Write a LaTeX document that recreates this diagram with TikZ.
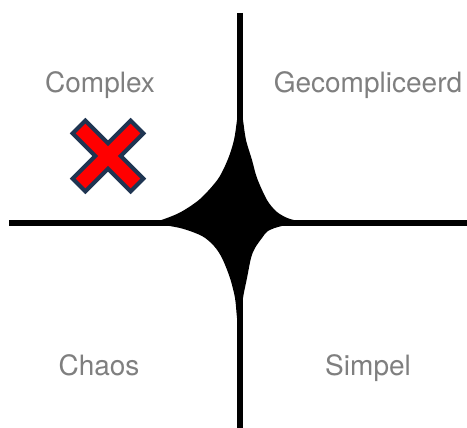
\documentclass[tikz,border=0pt]{standalone}
\usepackage{fontspec}
\setmainfont{TeX Gyre Heros}
\definecolor{labelgray}{HTML}{7F7F7F}
\definecolor{crossnavy}{HTML}{1F3552}
\definecolor{crossred}{HTML}{FF0000}
\begin{document}
\begin{tikzpicture}[x=1pt,y=-1pt,
  quadlabel/.style={text=labelgray,font=\fontsize{28}{31}\selectfont,anchor=base,inner sep=0pt},
  axisline/.style={line width=6pt,black},
  crossshape/.style={fill=crossred,draw=crossnavy,line width=4pt,line join=miter}]
\useasboundingbox (0,0) rectangle (467,428);
\fill[white] (0,0) rectangle (467,428);
% axes
\coordinate (vtop) at (239.7,13);
\coordinate (vbot) at (239.7,428);
\coordinate (hleft) at (9,223);
\coordinate (hright) at (467,223);
\draw[axisline] (vtop) -- (vbot);
\draw[axisline] (hleft) -- (hright);
% star
\fill[black]
  plot[smooth,tension=0.5] coordinates {(150,223) (160,220.5) (180,212.5) (200,199) (218,179) (228,159) (234,140) (237,120) (239.5,100)}
  -- plot[smooth,tension=0.5] coordinates {(240,100) (243,120) (246,140) (252,160) (257,178) (267,200) (277,212) (290,219) (310,223)}
  -- plot[smooth,tension=0.5] coordinates {(310,223) (282,226) (268,231) (262,238) (255,248) (251,258) (247,278) (243,298) (241,318) (240,335)}
  -- plot[smooth,tension=0.5] coordinates {(239.5,335) (237,318) (235,298) (230,278) (222,258) (214,246) (202,236) (180,228) (150,223)}
  -- cycle;
% labels
\node[quadlabel] (complex) at (100,93) {Complex};
\node[quadlabel] (gecomp) at (368,93) {Gecompliceerd};
\node[quadlabel] (chaos) at (99,375) {Chaos};
\node[quadlabel] (simpel) at (368,375) {Simpel};
% cross
\begin{scope}[shift={(108,156)},rotate=45]
\draw[crossshape] (9,9) -- (9,41) -- (-9,41) -- (-9,9) -- (-41,9) -- (-41,-9)
  -- (-9,-9) -- (-9,-41) -- (9,-41) -- (9,-9) -- (41,-9) -- (41,9) -- cycle;
\end{scope}
\end{tikzpicture}
\end{document}
